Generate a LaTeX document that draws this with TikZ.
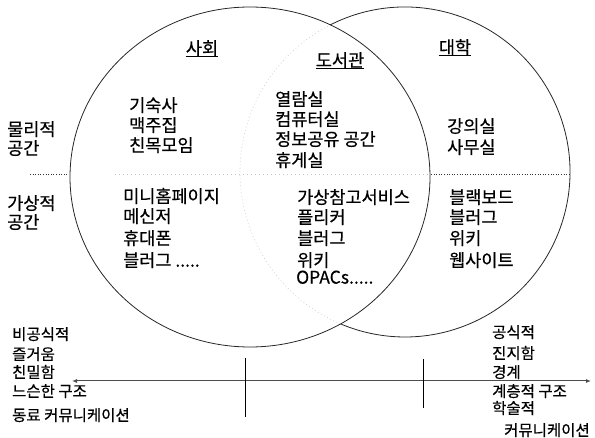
\documentclass[tikz,border=0pt]{standalone}
\usepackage{fontspec}
\setmainfont{Noto Sans CJK KR}[FakeBold=0.5]
\usetikzlibrary{arrows.meta}
\begin{document}
\begin{tikzpicture}[x=1pt,y=-1pt,
  txt/.style={anchor=west,inner sep=0pt,font=\fontsize{17.5}{17.5}\selectfont,text height=13.3pt,text depth=0pt},
  small/.style={anchor=west,inner sep=0pt,font=\fontsize{15.5}{15.5}\selectfont,text height=11.8pt,text depth=0pt},
  ttl/.style={txt,anchor=center},
  uline/.style={draw=black,line width=0.8pt},
  ring/.style={draw=black!85,line width=0.8pt},
  faint/.style={draw=black!18,line width=0.6pt,dash pattern=on 1pt off 2.5pt},
  dots/.style={draw=black!80,line width=0.8pt,dash pattern=on 1pt off 1.6pt},
  faintdots/.style={draw=black!22,line width=0.6pt,dash pattern=on 1pt off 3pt},
  axis/.style={draw=black!70,line width=1pt,{Latex[length=5pt,width=4pt]}-{Latex[length=5pt,width=4pt]}},
  tickline/.style={draw=black,line width=0.9pt}]
\useasboundingbox (0,0) rectangle (595,438);

% circles
\draw[ring] (250,177) ellipse [x radius=180, y radius=170];
\draw[ring] (405,172) ++(-117:165) arc[start angle=-117, end angle=113, radius=165];
\draw[faint] (405,172) ++(113:165) arc[start angle=113, end angle=243, radius=165];

% horizontal divider
\draw[dots] (30,174) -- (68,174);
\draw[faintdots] (115,174) -- (429,174);
\draw[dots] (431,174) -- (570,174);

% titles
\node[ttl] (soc) at (202,48) {사회};
\node[ttl] (lib) at (340,60) {도서관};
\node[ttl] (uni) at (455,47) {대학};
\draw[uline] ([yshift=-2pt]soc.south west) -- ([yshift=-2pt]soc.south east);
\draw[uline] ([yshift=-2pt]lib.south west) -- ([yshift=-2pt]lib.south east);
\draw[uline] ([yshift=-2pt]uni.south west) -- ([yshift=-2pt]uni.south east);

% row labels
\node[txt] (ph1) at (7,129) {물리적};
\node[txt] (ph2) at (7,148) {공간};
\node[txt] (vi1) at (7,203) {가상적};
\node[txt] (vi2) at (7,222) {공간};

% society
\node[txt] (s1) at (129,105) {기숙사};
\node[txt] (s2) at (129,125) {맥주집};
\node[txt] (s3) at (129,145) {친목모임};
\node[txt] (sv1) at (123,196) {미니홈페이지};
\node[txt] (sv2) at (123,216) {메신저};
\node[txt] (sv3) at (123,238) {휴대폰};
\node[txt] (sv4) at (123,260) {블러그 .....};

% library
\node[txt] (l1) at (275,99) {열람실};
\node[txt] (l2) at (275,119) {컴퓨터실};
\node[txt] (l3) at (275,139) {정보공유 공간};
\node[txt] (l4) at (275,160) {휴게실};
\node[txt] (lv1) at (297,197) {가상참고서비스};
\node[txt] (lv2) at (297,217) {플리커};
\node[txt] (lv3) at (297,238) {블러그};
\node[txt] (lv4) at (297,260) {위키};
\node[txt] (lv5) at (296,277) {OPACs.....};

% university
\node[txt] (u1) at (447,126) {강의실};
\node[txt] (u2) at (447,147) {사무실};
\node[txt] (uv1) at (449,197) {블랙보드};
\node[txt] (uv2) at (449,217) {블러그};
\node[txt] (uv3) at (449,238) {위키};
\node[txt] (uv4) at (449,260) {웹사이트};

% axis
\coordinate (axL) at (72,381);
\coordinate (axR) at (591,381);
\draw[axis] (axL) -- (axR);
\coordinate (t1a) at (245,358);
\coordinate (t1b) at (245,417);
\coordinate (t2a) at (423,359);
\coordinate (t2b) at (423,408);
\draw[tickline] (t1a) -- (t1b);
\draw[tickline] (t2a) -- (t2b);

% bottom left
\node[small] (b1) at (12,334) {비공식적};
\node[small] (b2) at (12,354) {즐거움};
\node[small] (b3) at (12,372) {친밀함};
\node[small] (b4) at (12,391) {느슨한 구조};
\node[small] (b5) at (12,415) {동료 커뮤니케이션};

% bottom right
\node[small] (r1) at (492,332) {공식적};
\node[small] (r2) at (492,353) {진지함};
\node[small] (r3) at (492,372) {경계};
\node[small] (r4) at (492,391) {계층적 구조};
\node[small] (r5) at (492,408) {학술적};
\node[small] (r6) at (504,430) {커뮤니케이션};
\end{tikzpicture}
\end{document}
